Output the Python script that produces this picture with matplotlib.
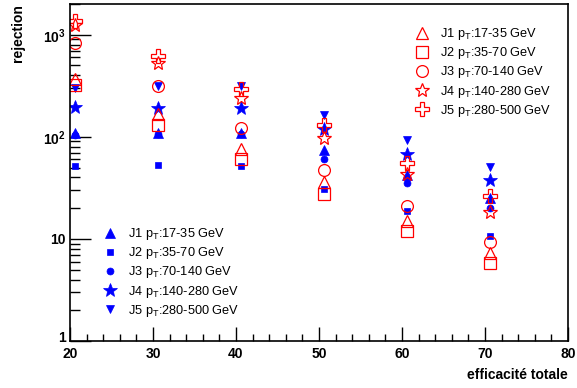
import matplotlib
matplotlib.use("Agg")
import matplotlib.pyplot as plt
import matplotlib.transforms as mtransforms
from matplotlib.ticker import FixedLocator, MultipleLocator, NullFormatter, LogLocator

plt.rcParams['font.family'] = ['Liberation Sans', 'DejaVu Sans']
plt.rcParams['mathtext.fontset'] = 'custom'
plt.rcParams['mathtext.rm'] = 'Liberation Sans'
plt.rcParams['mathtext.bf'] = 'Liberation Sans:bold'

# efficiency points (x)
eff = [20.6, 30.6, 40.6, 50.6, 60.6, 70.6]
xticks = [20, 30, 40, 50, 60, 70, 80]

labels = ["J1 p$_\\mathregular{T}$:17-35 GeV", "J2 p$_\\mathregular{T}$:35-70 GeV",
          "J3 p$_\\mathregular{T}$:70-140 GeV", "J4 p$_\\mathregular{T}$:140-280 GeV",
          "J5 p$_\\mathregular{T}$:280-500 GeV"]

# blue (filled) series
blue_j1 = [108, 110, 110, 74, 42, 25]
blue_j2 = [52, 52.5, 52, 31, 18.6, 10.7]
blue_j3 = [104, 106, 106, 60, 35, 20]
blue_j4 = [194, 193, 193, 118, 68, 38]
blue_j5 = [300, 318, 318, 162, 93, 51]

# red (open) series
red_j1 = [365, 166, 76, 36, 15, 7.3]
red_j2 = [320, 130, 60, 27.5, 12, 5.8]
red_j3 = [830, 318, 123, 47, 21, 9.3]
red_j4 = [1250, 530, 241, 98, 43, 18.3]
red_j5 = [1350, 614, 296, 132, 56, 26.5]

W, H = 577, 388
fig = plt.figure(figsize=(W / 100, H / 100), dpi=100)
ax = fig.add_axes([70 / W, 1 - 341 / H, 498 / W, 337 / H])

blue = '#0000ff'
red = '#ff0000'

blue_style = [('^', 7.5), ('s', 5), ('o', 5), ('*', 10.5), ('v', 5.5)]
red_style = [('^', 8.5), ('s', 8.5), ('o', 8.5), ('*', 10.5), ('P', 9.5)]

blue_data = [blue_j1, blue_j2, blue_j3, blue_j4, blue_j5]
red_data = [red_j1, red_j2, red_j3, red_j4, red_j5]

blue_handles = {}
for k in [2, 0, 1, 3, 4]:
    m, s = blue_style[k]
    ln, = ax.plot(eff, blue_data[k], ls='none', marker=m, ms=s, color=blue, mec=blue, mew=0.5)
    blue_handles[k] = ln
blue_handles = [blue_handles[k] for k in range(5)]

red_handles = []
for k in range(5):
    m, s = red_style[k]
    ln, = ax.plot(eff, red_data[k], ls='none', marker=m, ms=s, mfc='none', mec=red, mew=0.9)
    red_handles.append(ln)

ax.set_yscale('log')
ax.set_xlim(20, 80)
ax.set_ylim(1, 2000)

ax.xaxis.set_major_locator(FixedLocator(xticks))
ax.xaxis.set_minor_locator(MultipleLocator(2))
ax.yaxis.set_major_locator(FixedLocator([1, 10, 100, 1000]))
ax.yaxis.set_minor_locator(LogLocator(base=10, subs=range(2, 10)))
ax.yaxis.set_minor_formatter(NullFormatter())
ax.set_yticklabels(['1', '10', '10$^\\mathbf{2}$', '10$^\\mathbf{3}$'], fontweight='bold', fontsize=10)
ax.set_xticklabels([str(v) for v in xticks], fontweight='bold', fontsize=10)

ax.tick_params(which='both', direction='in', top=False, right=False, width=1)
ax.tick_params(axis='y', which='major', length=15, pad=3)
ax.tick_params(axis='y', which='minor', length=7.5)
ax.tick_params(axis='x', which='major', length=10, pad=4)
ax.tick_params(axis='x', which='minor', length=5)
for sp in ax.spines.values():
    sp.set_linewidth(1.2)

# lift the "1" label a bit so it does not run into "20"
lab1 = ax.get_yticklabels()[0]
lab1.set_transform(lab1.get_transform() + mtransforms.ScaledTranslation(0, 4 / 100, fig.dpi_scale_trans))

fig.text(18 / W, 1 - 4 / H, 'rejection', rotation=90, ha='center', va='top',
         fontweight='bold', fontsize=10)
fig.text(568 / W, 1 - 375 / H, 'efficacité totale', ha='right', va='center',
         fontweight='bold', fontsize=10)

leg_kw = dict(loc='upper left', frameon=False, fontsize=9.2, handlelength=1.2,
              handletextpad=0.8, labelspacing=0.25, borderpad=0, borderaxespad=0)
leg1 = ax.legend(blue_handles, labels,
                 bbox_to_anchor=((102 - 70) / 498, (341 - 226) / 337), **leg_kw)
ax.add_artist(leg1)
ax.legend(red_handles, labels,
          bbox_to_anchor=((414 - 70) / 498, (341 - 26) / 337), **leg_kw)

fig.savefig('out.png', dpi=100)
